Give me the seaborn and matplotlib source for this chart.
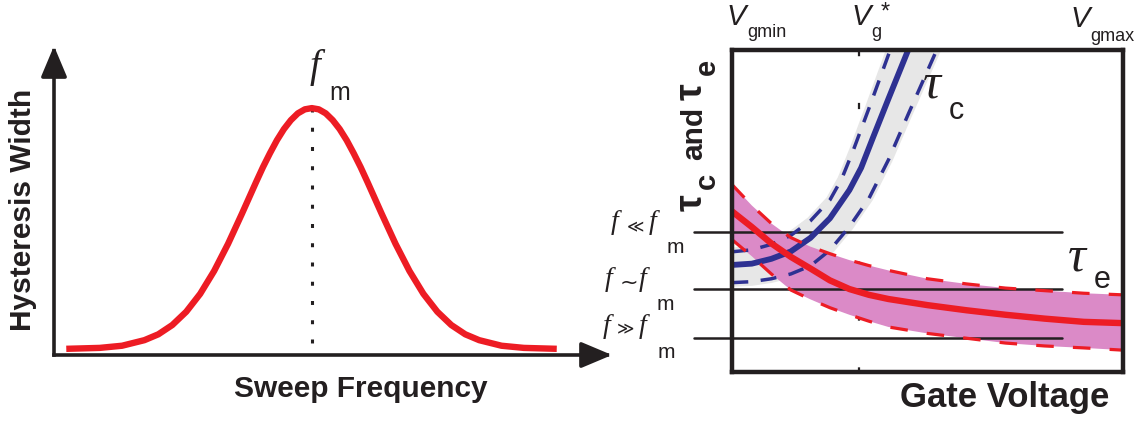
import numpy as np
import matplotlib
matplotlib.use("Agg")
import matplotlib.pyplot as plt
import seaborn as sns

# ---------------- data ----------------
# Left panel: hysteresis width vs sweep frequency (arbitrary units 0..100)
sweep_freq = [2.2, 8.2, 12.2, 16.2, 18.7, 21.2, 23.7, 26.2, 28.7, 31.2, 33.7, 36.2,
              37.45, 38.7, 39.95, 41.2, 42.45, 43.7, 44.95, 46.2, 47.45, 48.7, 49.95,
              51.2, 52.45, 53.7, 54.95, 56.2, 58.7, 61.2, 63.7, 66.2, 68.7, 71.2, 73.7,
              76.2, 80.2, 84.2, 90.1]
hyst_width = [2.0, 2.3, 3.0, 4.8, 6.7, 9.7, 14.0, 19.8, 27.2, 36.0, 45.8, 55.9,
              60.8, 65.3, 69.5, 73.1, 76.0, 78.2, 79.5, 79.9, 79.5, 78.2, 76.0,
              73.1, 69.5, 65.3, 60.8, 55.9, 45.8, 36.0, 27.2, 19.8, 14.0, 9.7, 6.7,
              4.8, 3.0, 2.3, 2.0]

# Right panel: time constants vs gate voltage (box coordinates 0..1)
gate_v = [0, 0.05, 0.10, 0.15, 0.20, 0.25, 0.30, 0.35, 0.40, 0.50, 0.60, 0.70, 0.80, 0.90, 1.00]
tau_e = [0.499, 0.451, 0.400, 0.358, 0.322, 0.285, 0.258, 0.240, 0.227, 0.208, 0.192, 0.178, 0.166, 0.156, 0.152]
tau_e_hi = [0.582, 0.518, 0.462, 0.418, 0.390, 0.368, 0.348, 0.331, 0.316, 0.290, 0.274, 0.261, 0.253, 0.245, 0.240]
tau_e_lo = [0.411, 0.360, 0.305, 0.255, 0.226, 0.200, 0.178, 0.158, 0.140, 0.120, 0.105, 0.090, 0.081, 0.075, 0.068]

gate_c = [0, 0.05, 0.10, 0.15, 0.20, 0.25, 0.30, 0.33, 0.36, 0.40, 0.45]
tau_c = [0.333, 0.337, 0.352, 0.375, 0.417, 0.478, 0.566, 0.635, 0.728, 0.850, 1.0]
gate_c_hi = [0, 0.05, 0.10, 0.15, 0.20, 0.25, 0.28, 0.31, 0.35, 0.404]
tau_c_hi = [0.374, 0.380, 0.397, 0.425, 0.470, 0.535, 0.600, 0.690, 0.820, 1.0]
gate_c_lo = [0, 0.05, 0.10, 0.15, 0.20, 0.25, 0.30, 0.35, 0.40, 0.45, 0.523]
tau_c_lo = [0.278, 0.281, 0.290, 0.305, 0.330, 0.379, 0.452, 0.540, 0.660, 0.800, 1.0]

vg_star = 0.324                      # position of V_g*
freq_levels = [0.4355, 0.258, 0.106]  # f << fm, f ~ fm, f >> fm
level_relations = ["\u226a", "~", "\u226b"]

x_label_left = "Sweep Frequency"
y_label_left = "Hysteresis Width"
x_label_right = "Gate Voltage"

# ---------------- style ----------------
sns.set_theme(style="white")
plt.rcParams["font.family"] = ["Liberation Sans", "DejaVu Sans"]

RED = "#ED1C24"
BLUE = "#2E3192"
MAGENTA = "#DB8AC7"
GREY = "#E7E7E7"
INK = "#231F20"

W, H = 1136, 423
fig = plt.figure(figsize=(W / 100, H / 100), dpi=100)
fig.patch.set_facecolor("white")


def fx(px):
    return px / W


def fy(py):
    return 1 - py / H


def T(x, y, s, size, family="Liberation Sans", style="normal", weight="normal",
      ha="left", va="baseline", **kw):
    fig.text(fx(x), fy(y), s, fontsize=size, family=family, style=style,
             weight=weight, ha=ha, va=va, color=INK, **kw)


# ---------------- left panel ----------------
axL = fig.add_axes([fx(54), fy(355), (612 - 54) / W, (355 - 46) / H])
sns.lineplot(x=sweep_freq, y=hyst_width, ax=axL, color=RED, lw=4.6,
             solid_capstyle="butt", sort=False, estimator=None, zorder=3)
axL.set_xlim(0, 100)
axL.set_ylim(0, 100)
axL.axis("off")

arrow_kw = dict(arrowstyle="-|>,head_length=0.95,head_width=0.4", mutation_scale=20,
                lw=2.6, color=INK, shrinkA=0, shrinkB=0, capstyle="projecting")
axL.annotate("", xy=(0, 1), xytext=(0, 0), xycoords="axes fraction", arrowprops=arrow_kw)
axL.annotate("", xy=(1, 0), xytext=(0, 0), xycoords="axes fraction", arrowprops=arrow_kw)

ipk = int(np.argmax(hyst_width))
axL.plot([sweep_freq[ipk], sweep_freq[ipk]], [hyst_width[ipk], 0], color=INK, lw=2.2,
         linestyle=(0, (1.3, 5)), zorder=2)

# ---------------- right panel ----------------
axR = fig.add_axes([fx(732.3), fy(372), (1122.7 - 732.3) / W, (372 - 50.5) / H])
axR.set_xlim(0, 1)
axR.set_ylim(0, 1)

axR.plot([vg_star, vg_star], [1.0, -0.14], color=INK, lw=1.6,
         linestyle=(0, (2.8, 21)), clip_on=False, zorder=0.5)
axR.fill(np.r_[gate_c_hi, gate_c_lo[::-1]], np.r_[tau_c_hi, tau_c_lo[::-1]],
         facecolor=GREY, edgecolor=GREY, lw=6, zorder=1)
axR.fill(np.r_[gate_v, gate_v[::-1]], np.r_[tau_e_hi, tau_e_lo[::-1]],
         color=MAGENTA, lw=0, zorder=1.2)
for lvl in freq_levels:
    axR.plot([-0.098, 0.844], [lvl, lvl], color=INK, lw=1.8, clip_on=False, zorder=3)

sns.lineplot(x=gate_c_hi, y=tau_c_hi, ax=axR, color=BLUE, lw=2.5,
             linestyle=(0, (4.6, 3.6)), sort=False, estimator=None, zorder=4)
sns.lineplot(x=gate_c_lo, y=tau_c_lo, ax=axR, color=BLUE, lw=2.5,
             linestyle=(0, (4.6, 3.6)), sort=False, estimator=None, zorder=4)
sns.lineplot(x=gate_c, y=tau_c, ax=axR, color=BLUE, lw=4.2,
             sort=False, estimator=None, zorder=4.5)
sns.lineplot(x=gate_v, y=tau_e_hi, ax=axR, color=RED, lw=2.3,
             linestyle=(0, (5.5, 6.0)), sort=False, estimator=None, zorder=5)
sns.lineplot(x=gate_v, y=tau_e_lo, ax=axR, color=RED, lw=2.3,
             linestyle=(0, (5.5, 6.0)), sort=False, estimator=None, zorder=5)
sns.lineplot(x=gate_v, y=tau_e, ax=axR, color=RED, lw=4.6,
             sort=False, estimator=None, zorder=5.5)

axR.set_xticks([])
axR.set_yticks([])
axR.set_xlabel("")
axR.set_ylabel("")
for sp in axR.spines.values():
    sp.set_visible(True)
    sp.set_linewidth(3.2)
    sp.set_color(INK)
    sp.set_zorder(10)
axR.set_facecolor("white")

# ---------------- texts ----------------
# left panel
T(23, 210, y_label_left, 21.5, weight="bold", ha="center", va="center", rotation=90)
T(361, 397, x_label_left, 21.5, weight="bold", ha="center")
T(310, 76.5, "f", 28, family="Liberation Serif", style="italic")
T(329, 100, "m", 18)

# right panel, top labels
T(726, 25, "V", 21, style="italic")
T(747, 37, "gmin", 13)
T(851, 25, "V", 21, style="italic")
T(871, 37, "g", 13)
T(881, 19, "*", 17)
T(1070, 27, "V", 21, style="italic")
T(1090, 41, "gmax", 13)

# curve labels
T(923, 97, "\u03c4", 36, family="Liberation Serif", style="italic")
T(949, 119, "c", 22)
T(1068, 270, "\u03c4", 36, family="Liberation Serif", style="italic")
T(1094, 288, "e", 22)

# frequency level labels
lvl_pos = [(611, 627, 649, 667, 229, 253, 226),
           (605, 620, 639, 657, 286, 310, 283),
           (603, 617, 639, 658, 333, 358, 328)]
for rel, (xf1, xr, xf2, xm, bf, bm, yr) in zip(level_relations, lvl_pos):
    T(xf1, bf, "f", 20, family="Liberation Serif", style="italic")
    T(xr, yr, rel, 12 if rel != "~" else 16, family=["DejaVu Sans"], va="center")
    T(xf2, bf, "f", 20, family="Liberation Serif", style="italic")
    T(xm, bm, "m", 15)

# rotated y label of the right panel
rot = dict(rotation=90, rotation_mode="anchor")
T(702, 211, "\u03c4", 27, weight="bold", **rot)
T(715, 189, "c", 21, weight="bold", **rot)
T(702, 160, "and", 21.5, weight="bold", **rot)
T(702, 100, "\u03c4", 27, weight="bold", **rot)
T(715, 75, "e", 21, weight="bold", **rot)

# x label of the right panel
T(1005, 407, x_label_right, 25, weight="bold", ha="center")

fig.savefig("out.png", dpi=100, facecolor="white")
